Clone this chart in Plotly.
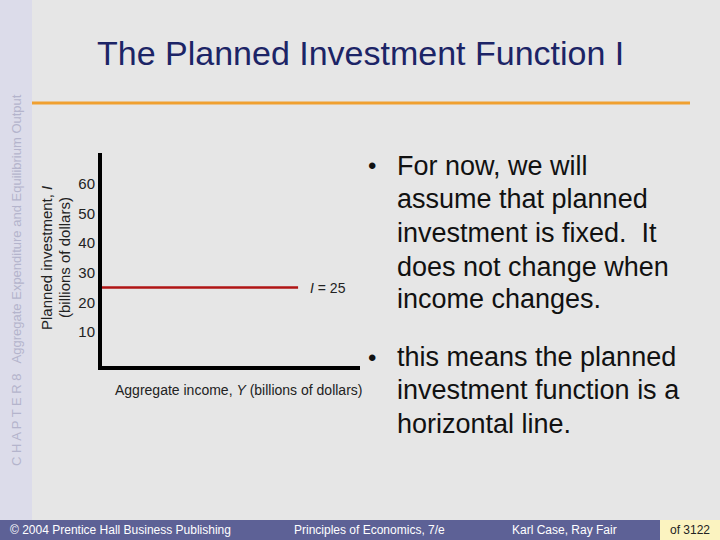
import plotly.graph_objects as go

income = [0, 76]
investment = [25, 25]
yticks = [10, 20, 30, 40, 50, 60]

W, H = 720, 540
def px(x): return x / W
def py(y): return 1 - y / H

fig = go.Figure()
fig.add_trace(go.Scatter(x=income, y=investment, mode="lines",
                         line=dict(color="#b01515", width=2.5), hoverinfo="skip", showlegend=False))

shapes = [
    dict(type="rect", xref="paper", yref="paper", x0=0, x1=px(32), y0=py(520), y1=1,
         fillcolor="#dcdcea", line=dict(width=0), layer="below"),
    dict(type="line", xref="paper", yref="paper", x0=px(32), x1=px(690), y0=py(103), y1=py(103),
         line=dict(color="#f0a030", width=3)),
    dict(type="rect", xref="paper", yref="paper", x0=0, x1=1, y0=0, y1=py(520),
         fillcolor="#5d6196", line=dict(width=0)),
    dict(type="rect", xref="paper", yref="paper", x0=px(660), x1=1, y0=0, y1=py(520),
         fillcolor="#fbf3c0", line=dict(width=0)),
]

F = "Liberation Sans, Arial, sans-serif"
ann = [
    dict(x=px(360), y=py(53), text="The Planned Investment Function I", font=dict(size=34, color="#1c2466")),
    dict(x=px(16), y=py(280), text="C H A P T E R 8   Aggregate Expenditure and Equilibrium Output",
         textangle=-90, font=dict(size=13, color="#b4b4cc")),
    dict(x=px(46), y=py(258), text="Planned investment, <i>I</i>", textangle=-90, font=dict(size=15, color="#222")),
    dict(x=px(64), y=py(258), text="(billions of dollars)", textangle=-90, font=dict(size=15, color="#222")),
    dict(x=px(238), y=py(390), text="Aggregate income, <i>Y</i> (billions of dollars)", font=dict(size=14, color="#222")),
    dict(x=px(328), y=py(288), text="<i>I</i> = 25", font=dict(size=14, color="#222")),
    dict(x=px(8), y=py(530), text="© 2004 Prentice Hall Business Publishing", xanchor="left", font=dict(size=12, color="white")),
    dict(x=px(370), y=py(530), text="Principles of Economics, 7/e", font=dict(size=12, color="white")),
    dict(x=px(564), y=py(530), text="Karl Case, Ray Fair", font=dict(size=12, color="white")),
    dict(x=px(690), y=py(530), text="of 3122", font=dict(size=12, color="#222")),
]
b1 = ["For now, we will", "assume that planned", "investment is fixed.  It", "does not change when", "income changes."]
ys1 = [166, 199, 233, 267, 299]
b2 = ["this means the planned", "investment function is a", "horizontal line."]
ys2 = [357, 390, 424]
for t, y in zip(b1 + b2, ys1 + ys2):
    ann.append(dict(x=px(395), y=py(y), text=t, xanchor="left", font=dict(size=27, color="#111")))
for y in (166, 357):
    ann.append(dict(x=px(372), y=py(y), text="•", font=dict(size=24, color="#111")))
for a in ann:
    a.update(xref="paper", yref="paper", showarrow=False, yanchor="middle")
    a.setdefault("xanchor", "center")
    a["font"].setdefault("family", F)

fig.update_layout(
    width=W, height=H, margin=dict(l=0, r=0, t=0, b=0),
    paper_bgcolor="#e6e6e6", plot_bgcolor="rgba(0,0,0,0)",
    shapes=shapes, annotations=ann, font=dict(family=F),
    xaxis=dict(domain=[px(102), px(360)], range=[0, 100], showgrid=False, zeroline=False,
               showticklabels=False, showline=True, linecolor="black", linewidth=4),
    yaxis=dict(domain=[py(366), py(153)], range=[-1.5, 70.5], showgrid=False, zeroline=False,
               tickvals=yticks, ticks="", tickfont=dict(size=15, color="#222"),
               showline=True, linecolor="black", linewidth=4),
)
fig.write_html("out.html", config={"displayModeBar": False},
               post_script="document.body.style.margin='0';document.body.style.overflow='hidden';")
